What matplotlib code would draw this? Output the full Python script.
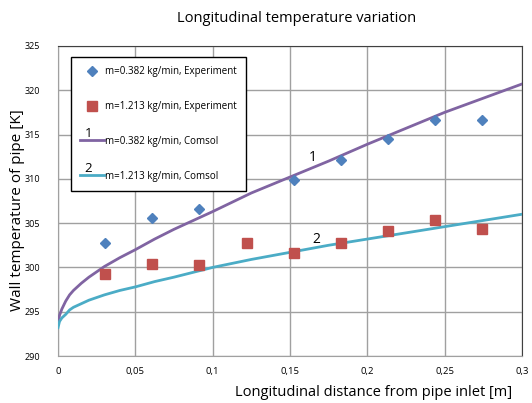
import matplotlib
matplotlib.use('Agg')
import matplotlib.pyplot as plt
import matplotlib.ticker as ticker
from matplotlib.legend_handler import HandlerLine2D
from matplotlib.text import Text

plt.rcParams.update({
    'font.family': ['Open Sans', 'DejaVu Sans'],
    'font.size': 7,
})

# ------------------------------------------------------------
# Dados
# ------------------------------------------------------------
x_exp = [0.0305, 0.061, 0.0915, 0.122, 0.1525, 0.183, 0.2135, 0.244, 0.2745]
t_exp_382 = [302.8, 305.6, 306.6, None, 309.9, 312.1, 314.5, 316.6, 316.6]
t_exp_1213 = [299.3, 300.4, 300.3, 302.7, 301.6, 302.7, 304.1, 305.3, 304.3]

x_sim = [0, 0.001, 0.0025, 0.005, 0.0075, 0.01, 0.015, 0.02, 0.03, 0.04,
         0.05, 0.0625, 0.075, 0.1, 0.125, 0.15, 0.175, 0.2, 0.225, 0.25,
         0.275, 0.3]
t_sim_382 = [293.6, 294.6, 295.3, 296.2, 296.9, 297.4, 298.2, 298.9, 300.1,
             301.1, 302.0, 303.2, 304.3, 306.3, 308.4, 310.2, 312.0, 313.9,
             315.7, 317.5, 319.1, 320.7]
t_sim_1213 = [293.2, 293.9, 294.3, 294.7, 295.2, 295.5, 295.9, 296.3, 296.9,
              297.4, 297.8, 298.4, 298.9, 300.0, 300.9, 301.7, 302.5, 303.2,
              303.9, 304.6, 305.3, 306.0]

COR_382 = '#4F81BD'
COR_1213 = '#C0504D'
COR_SIM_382 = '#8064A2'
COR_SIM_1213 = '#4BACC6'


class HandlerNumerada(HandlerLine2D):
    """Linha de legenda com um número em cima."""
    def __init__(self, numero, **kw):
        super().__init__(**kw)
        self.numero = numero

    def create_artists(self, legend, orig_handle, xdescent, ydescent,
                       width, height, fontsize, trans):
        artistas = super().create_artists(legend, orig_handle, xdescent, ydescent,
                                          width, height, fontsize, trans)
        txt = Text(width * 0.36 - xdescent, height * 0.55, self.numero,
                   ha='center', va='bottom', fontsize=9.5,
                   color='black', transform=trans)
        return list(artistas) + [txt]


fig = plt.figure(figsize=(5.32, 4.03), dpi=100)
ax = fig.add_axes([0.109, 0.1166, 0.872, 0.7694])

pts = [(x, t) for x, t in zip(x_exp, t_exp_382) if t is not None]
h1, = ax.plot([p[0] for p in pts], [p[1] for p in pts], linestyle='none',
              marker='D', markersize=5, color=COR_382,
              label='m=0.382 kg/min, Experiment', zorder=4)
h2, = ax.plot(x_exp, t_exp_1213, linestyle='none', marker='s', markersize=7,
              color=COR_1213, label='m=1.213 kg/min, Experiment', zorder=4)
h3, = ax.plot(x_sim, t_sim_382, color=COR_SIM_382, linewidth=2,
              label='m=0.382 kg/min, Comsol', zorder=3)
h4, = ax.plot(x_sim, t_sim_1213, color=COR_SIM_1213, linewidth=2,
              label='m=1.213 kg/min, Comsol', zorder=3)

ax.text(0.165, 312.4, '1', fontsize=10, ha='center', va='center')
ax.text(0.167, 303.1, '2', fontsize=10, ha='center', va='center')

ax.set_xlim(0, 0.3)
ax.set_ylim(290, 325)
ax.set_xticks([0, 0.05, 0.1, 0.15, 0.2, 0.25, 0.3])
ax.set_yticks(range(290, 326, 5))
ax.xaxis.set_major_formatter(ticker.FuncFormatter(
    lambda v, _: ('%g' % round(v, 3)).replace('.', ',')))
ax.tick_params(axis='x', length=0, pad=8, labelsize=6.8)
ax.tick_params(axis='y', length=0, pad=13, labelsize=6.5)
ax.grid(True, color='#a0a0a0', linewidth=1)
ax.set_axisbelow(True)
for lado in ['left', 'bottom']:
    ax.spines[lado].set_color('#a0a0a0')
for lado in ['top', 'right']:
    ax.spines[lado].set_color('#404040')

fig.text(297 / 532, 1 - 18 / 403, 'Longitudinal temperature variation',
         fontsize=10.5, ha='center', va='center')
ax.set_ylabel('Wall temperature of pipe [K]', fontsize=11)
ax.yaxis.set_label_coords(-0.071, 0.471)
ax.set_xlabel('Longitudinal distance from pipe inlet [m]', fontsize=10.5,
              loc='right')
ax.xaxis.set_label_coords((512 - 58) / 464, -0.094)

leg = ax.legend(handles=[h1, h2, h3, h4],
                handler_map={h3: HandlerNumerada('1'), h4: HandlerNumerada('2')},
                loc='upper left', bbox_to_anchor=(0.028, 0.9645),
                fontsize=7, frameon=True, fancybox=False, edgecolor='black',
                borderpad=0.95, labelspacing=2.45, handlelength=2.4,
                handletextpad=0.15, borderaxespad=0)
leg.get_frame().set_linewidth(1)
leg.get_frame().set_alpha(1)

fig.savefig('out.png', dpi=100)
